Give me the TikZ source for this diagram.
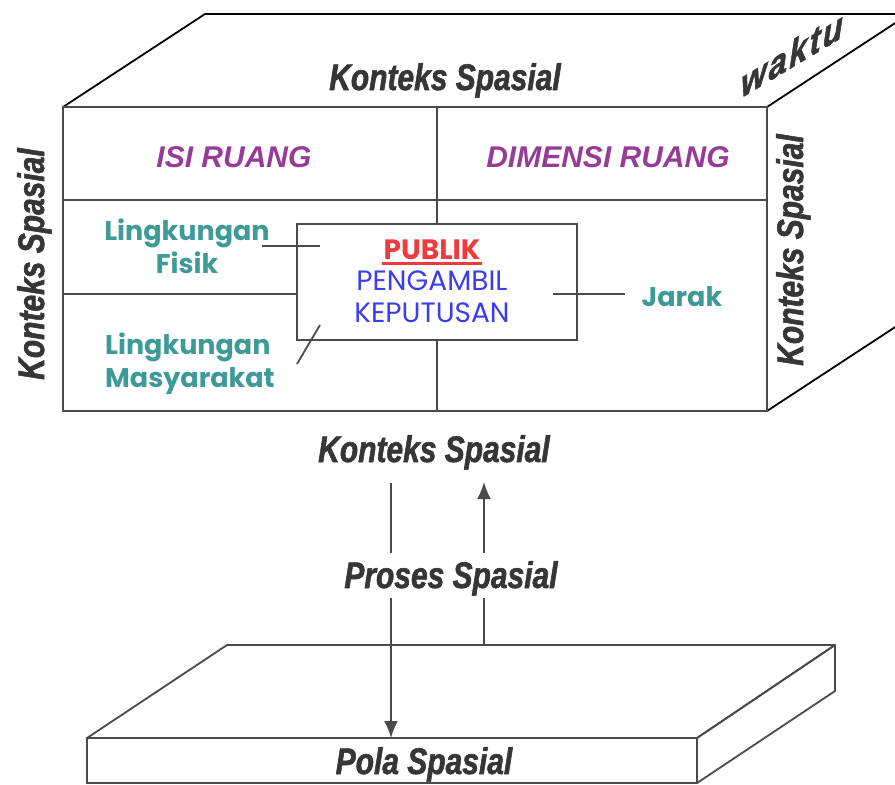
\documentclass[tikz,border=0pt]{standalone}
\usepackage{fontspec}
\usetikzlibrary{arrows.meta,calc}
\setmainfont{Liberation Sans}
\newfontfamily\headfont[FakeStretch=0.81,BoldItalicFeatures={FakeBold=1.5}]{Liberation Sans}
\newfontfamily\waktufont[FakeStretch=0.86,LetterSpace=6,BoldItalicFeatures={FakeBold=1.5}]{Liberation Sans}
\newfontfamily\gothfont{Poppins}

\definecolor{edgegray}{HTML}{4A4A4A}
\definecolor{txtgray}{HTML}{363636}
\definecolor{isipurple}{HTML}{963C96}
\definecolor{tealtxt}{HTML}{3E9A96}
\definecolor{pubred}{HTML}{EE3B3B}
\definecolor{pubblue}{HTML}{3C3CF0}

\begin{document}
\begin{tikzpicture}[x=1pt,y=-1pt,
  face/.style={draw=edgegray,line width=1.8pt},
  rim/.style={draw=black,line width=1.8pt},
  link/.style={draw=edgegray,line width=1.8pt},
  tip/.style={-{Latex[length=17pt,width=14pt]}},
  ctx/.style={font={\headfont\bfseries\itshape\fontsize{37}{40}\selectfont},text=txtgray,inner sep=0pt,anchor=base},
  wkt/.style={font={\waktufont\bfseries\itshape\fontsize{38}{40}\selectfont},text=txtgray,inner sep=0pt},
  ruang/.style={font={\bfseries\itshape\fontsize{30}{34}\selectfont},text=isipurple,inner sep=0pt},
  lab/.style={font={\gothfont\bfseries\fontsize{27}{33}\selectfont},text=tealtxt,inner sep=0pt},
  pubtxt/.style={font={\gothfont\fontsize{28}{32}\selectfont},text=pubblue,inner sep=0pt}
]
\useasboundingbox (0,0) rectangle (895,785);
\clip (0,0) rectangle (895,785);

% upper block: top and right faces
\draw[rim,line join=round] (63,107) -- (205,14) -- (909,14);
\draw[rim] (767,107) -- (909,14);
\draw[rim] (767,411) -- (909,318);

% upper block: front face with its grid
\draw[face] (63,107) rectangle (767,411);
\draw[face] (63,200) -- (767,200);
\draw[face] (63,294) -- (297,294);
\draw[face] (437,107) -- (437,411);

% central box
\node[draw=edgegray,line width=1.8pt,fill=white,minimum width=280pt,minimum height=116pt,inner sep=0pt] (pub) at (437,282) {};

% labels on the upper block
\node[ctx] (kstop) at (445,90) {Konteks Spasial};
\node[ctx,rotate=90] (ksleft) at (44,264) {Konteks Spasial};
\node[ctx,rotate=90] (ksright) at (803,250) {Konteks Spasial};
\node[wkt,yslant=0.6] (waktu) at (792,54) {waktu};
\node[ruang] (isi) at (234,157) {ISI RUANG};
\node[ruang] (dim) at (608,157) {DIMENSI RUANG};
\node[lab,align=center] (fisik) at (187,246) {Lingkungan\\Fisik};
\node[lab,align=left,anchor=west] (masy) at (105,364) {Lingkungan\\Masyarakat};
\node[lab] (jarak) at (682,297) {Jarak};

\node[pubtxt,font={\gothfont\bfseries\fontsize{28}{32}\selectfont},text=pubred] (publik) at (432,250) {PUBLIK};
\draw[pubred,line width=3pt] ($(publik.base west)+(-1,4)$) -- ($(publik.base east)+(1,4)$);
\node[pubtxt] (peng) at (432,281) {PENGAMBIL};
\node[pubtxt] (kep) at (432,313) {KEPUTUSAN};

% connectors to the central box
\coordinate (fisA) at (262,246);
\coordinate (fisB) at (320,246);
\coordinate (masA) at (297,364);
\coordinate (masB) at (320,325);
\coordinate (jarA) at (553,294);
\coordinate (jarB) at (625,294);
\draw[link] (fisA) -- (fisB);
\draw[link] (masA) -- (masB);
\draw[link] (jarA) -- (jarB);

% lower slab
\draw[face,line join=round] (87,738) -- (227,645) -- (835,645) -- (697,738);
\draw[face] (87,738) rectangle (697,783);
\draw[face,line join=round] (697,738) -- (835,645) -- (835,691) -- (697,783);

% middle labels
\node[ctx] (ksmid) at (434,462) {Konteks Spasial};
\node[ctx] (proses) at (451,588) {Proses Spasial};
\node[ctx] (pola) at (424,774) {Pola Spasial};

% process arrows
\coordinate (dn1) at (391,483);
\coordinate (dn2) at (391,553);
\coordinate (dn3) at (391,598);
\coordinate (dn4) at (391,738);
\coordinate (up1) at (484,645);
\coordinate (up2) at (484,598);
\coordinate (up3) at (484,553);
\coordinate (up4) at (484,482);
\draw[link] (dn1) -- (dn2);
\draw[link,tip] (dn3) -- (dn4);
\draw[link] (up1) -- (up2);
\draw[link,tip] (up3) -- (up4);
\end{tikzpicture}
\end{document}
